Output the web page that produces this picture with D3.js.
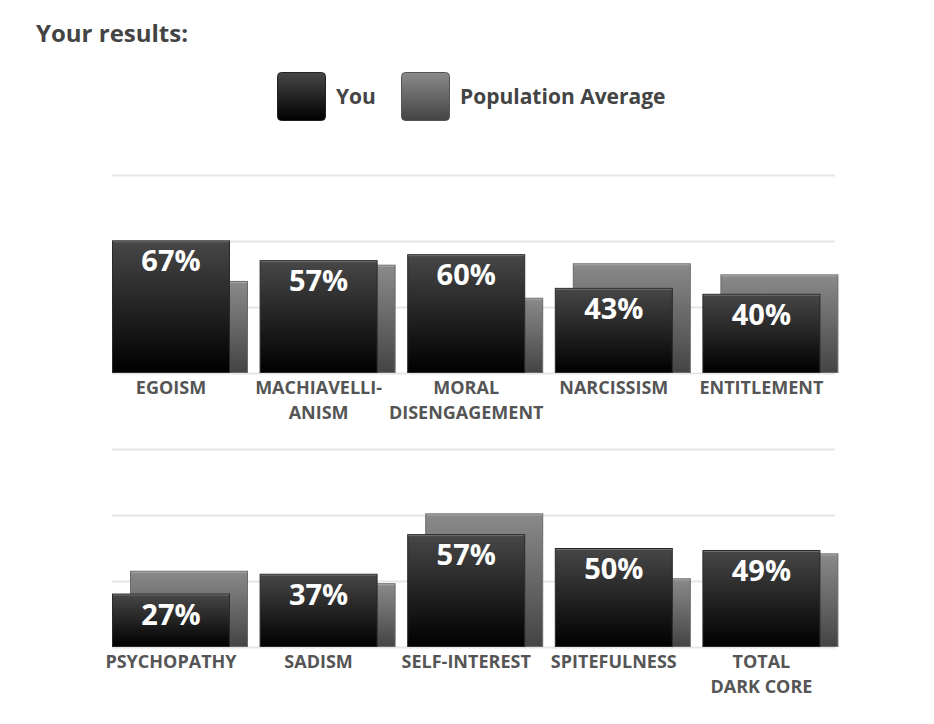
<!DOCTYPE html>
<html>
<head>
<meta charset="utf-8">
<script src="https://cdn.jsdelivr.net/npm/d3@7"></script>
<style>
  html, body { margin: 0; padding: 0; background: #fff; }
  svg { display: block; font-family: "Open Sans", sans-serif; }
</style>
</head>
<body>
<svg id="chart" width="934" height="724"></svg>
<script>
// ---- data ----
const categoriesTop = [["EGOISM"], ["MACHIAVELLI-", "ANISM"], ["MORAL", "DISENGAGEMENT"], ["NARCISSISM"], ["ENTITLEMENT"]];
const youTop = [67, 57, 60, 43, 40];
const avgTop = [46.5, 54.7, 38, 55.4, 49.8];

const categoriesBottom = [["PSYCHOPATHY"], ["SADISM"], ["SELF-INTEREST"], ["SPITEFULNESS"], ["TOTAL", "DARK CORE"]];
const youBottom = [27, 37, 57, 50, 49];
const avgBottom = [38.5, 32.2, 67.5, 34.7, 47.3];

const gridTicks = [0, 33.33, 66.67, 100];
const legendLabels = ["You", "Population Average"];
const titleText = "Your results:";

// ---- drawing ----
const svg = d3.select("#chart");
const defs = svg.append("defs");

const gDark = defs.append("linearGradient").attr("id", "gDark").attr("x1", 0).attr("y1", 0).attr("x2", 0).attr("y2", 1);
gDark.append("stop").attr("offset", "0%").attr("stop-color", "#474747");
gDark.append("stop").attr("offset", "100%").attr("stop-color", "#000000");
const gGray = defs.append("linearGradient").attr("id", "gGray").attr("x1", 0).attr("y1", 0).attr("x2", 0).attr("y2", 1);
gGray.append("stop").attr("offset", "0%").attr("stop-color", "#8a8a8a");
gGray.append("stop").attr("offset", "100%").attr("stop-color", "#444444");

// title
svg.append("text").attr("x", 36).attr("y", 42)
  .attr("font-size", 24).attr("font-weight", 700).attr("fill", "#444")
  .text(titleText);

// legend
const legend = [
  { label: legendLabels[0], fill: "url(#gDark)", stroke: "#222", x: 277, tx: 336 },
  { label: legendLabels[1], fill: "url(#gGray)", stroke: "#555", x: 401, tx: 460 }
];
legend.forEach(l => {
  svg.append("rect").attr("x", l.x + 0.5).attr("y", 72.5).attr("width", 48).attr("height", 48)
    .attr("rx", 4).attr("fill", l.fill).attr("stroke", l.stroke);
  svg.append("text").attr("x", l.tx).attr("y", 104)
    .attr("font-size", 21).attr("font-weight", 700).attr("fill", "#444").text(l.label);
});

const barW = 117, offset = 18;
const x = d3.scaleBand().domain(d3.range(5)).range([112, 850]).paddingInner(0).paddingOuter(0);

function panel(cats, you, avg, top, bottom) {
  const y = d3.scaleLinear().domain([0, 100]).range([bottom, top]);
  const g = svg.append("g");
  // grid
  const axis = d3.axisLeft(y).tickValues(gridTicks).tickSize(-(835 - 112)).tickFormat("");
  const ga = g.append("g").attr("transform", "translate(112,0)").call(axis);
  ga.select(".domain").remove();
  ga.selectAll(".tick line").attr("stroke", "#e6e6e6").attr("stroke-width", 2);

  const idx = d3.range(cats.length);
  // population bars (behind)
  g.selectAll(".avg").data(idx).join("rect")
    .attr("x", i => x(i) + offset + 0.5)
    .attr("y", i => y(avg[i]) + 0.5)
    .attr("width", barW)
    .attr("height", i => bottom - y(avg[i]) - 1)
    .attr("fill", "url(#gGray)").attr("stroke", "#6a6a6a");
  g.selectAll(".avghl").data(idx).join("line")
    .attr("x1", i => x(i) + offset + 1).attr("x2", i => x(i) + offset + barW)
    .attr("y1", i => y(avg[i]) + 1.5).attr("y2", i => y(avg[i]) + 1.5)
    .attr("stroke", "#a8a8a8").attr("stroke-width", 1);
  // you bars
  g.selectAll(".you").data(idx).join("rect")
    .attr("x", i => x(i) + 0.5)
    .attr("y", i => y(you[i]) + 0.5)
    .attr("width", barW)
    .attr("height", i => bottom - y(you[i]) - 1)
    .attr("fill", "url(#gDark)").attr("stroke", "#2a2a2a");
  g.selectAll(".youhl").data(idx).join("line")
    .attr("x1", i => x(i) + 1).attr("x2", i => x(i) + barW)
    .attr("y1", i => y(you[i]) + 1.5).attr("y2", i => y(you[i]) + 1.5)
    .attr("stroke", "#6e6e6e").attr("stroke-width", 1);
  // value labels
  g.selectAll(".val").data(idx).join("text")
    .attr("x", i => x(i) + barW / 2 + 0.5)
    .attr("y", i => y(you[i]) + 31)
    .attr("text-anchor", "middle").attr("font-size", 29).attr("font-weight", 700)
    .attr("fill", "#fff").text(i => you[i] + "%");
  // category labels (one text per line)
  idx.forEach(i => {
    cats[i].forEach((line, k) => {
      g.append("text").attr("text-anchor", "middle")
        .attr("font-size", 18).attr("font-weight", 700).attr("fill", "#555")
        .attr("x", x(i) + barW / 2 + 0.5).attr("y", bottom + 21 + k * 24.6).text(line);
    });
  });
}

panel(categoriesTop, youTop, avgTop, 175, 373);
panel(categoriesBottom, youBottom, avgBottom, 449, 647);
</script>
</body>
</html>
